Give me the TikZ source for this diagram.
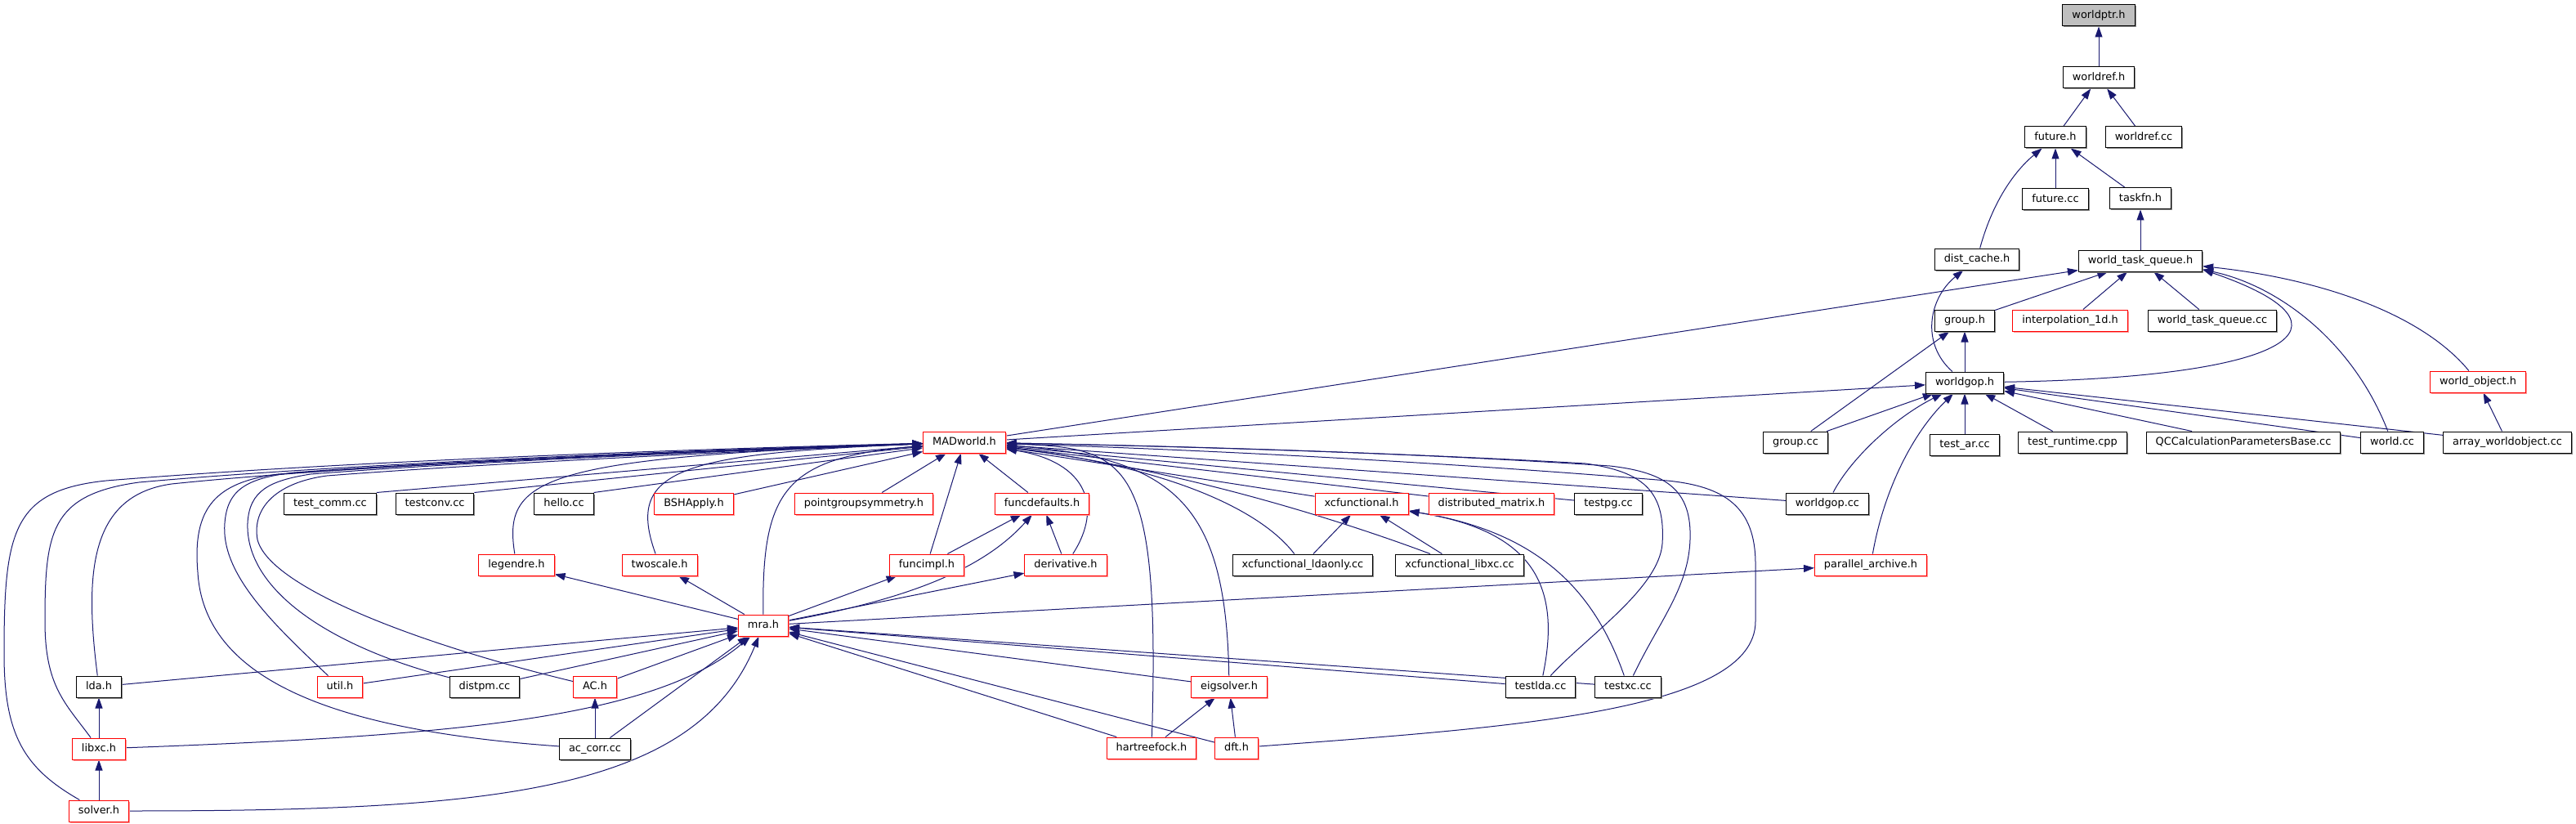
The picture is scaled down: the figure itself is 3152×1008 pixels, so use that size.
\documentclass[tikz,border=0pt]{standalone}
\usepackage{fontspec}
\setmainfont{DejaVu Sans}
\usepackage{tikz}
\usetikzlibrary{
	arrows.meta,
	positioning,
	backgrounds,
	shadows
}
\definecolor{edgeblue}{HTML}{191970}
\definecolor{rootgray}{HTML}{BFBFBF}

\begin{document}
\begin{tikzpicture}[
			x=1pt, y=1pt,
			font=\fontsize{12.9}{15}\selectfont,
			hb/.style={draw=black, line width=1pt, fill=white, minimum height=26pt, inner xsep=11.5pt, inner ysep=0pt, text height=9.5pt, text depth=2.5pt,
				general shadow={fill=black!45, shadow xshift=1.5pt, shadow yshift=-1.5pt}},
			rb/.style={hb, draw=red, general shadow={fill=red!40, shadow xshift=1.5pt, shadow yshift=-1.5pt}},
			rootb/.style={hb, fill=rootgray},
			>={Triangle[length=13pt, width=9pt]},
			dep/.style={->, draw=edgeblue, line width=1pt}
		]
		\useasboundingbox (0,0) rectangle (3152,-1008);

		% upper part
		\node[rootb] (wptr) at (2568,-19) {worldptr.h};
		\node[hb, below=49pt of wptr] (wref) {worldref.h};
		\node[hb] (fut) at (2515,-168) {future.h};
		\node[hb] (wrefcc) at (2623,-168) {worldref.cc};
		\node[hb, below=49pt of fut] (futcc) {future.cc};
		\node[hb] (taskfn) at (2619,-243) {taskfn.h};
		\node[hb] (dcache) at (2419,-317) {dist\_cache.h};
		\node[hb, below=49pt of taskfn] (wtq) {world\_task\_queue.h};
		\node[hb] (grp) at (2404,-392) {group.h};
		\node[rb] (interp) at (2533,-392) {interpolation\_1d.h};
		\node[hb] (wtqcc) at (2707,-392) {world\_task\_queue.cc};
		\node[hb, below=49pt of grp] (wgop) {worldgop.h};
		\node[rb] (wobj) at (3032,-467) {world\_object.h};

		\node[rb] (mad) at (1180,-541) {MADworld.h};
		\node[hb] (grpcc) at (2197,-541) {group.cc};
		\node[hb, below=49pt of wgop] (testar) {test\_ar.cc};
		\node[hb] (testrt) at (2536,-541) {test\_runtime.cpp};
		\node[hb] (qcc) at (2745,-541) {QCCalculationParametersBase.cc};
		\node[hb] (worldcc) at (2927,-541) {world.cc};
		\node[hb] (arrwo) at (3068,-541) {array\_worldobject.cc};

		\node[hb] (tcomm) at (404,-616) {test\_comm.cc};
		\node[hb] (tconv) at (532,-616) {testconv.cc};
		\node[hb] (hello) at (690,-616) {hello.cc};
		\node[rb] (bsh) at (849,-616) {BSHApply.h};
		\node[rb] (pgs) at (1057,-616) {pointgroupsymmetry.h};
		\node[rb] (fdef) at (1275,-616) {funcdefaults.h};
		\node[rb] (xcf) at (1666,-616) {xcfunctional.h};
		\node[rb] (dmat) at (1825,-616) {distributed\_matrix.h};
		\node[hb] (testpg) at (1968,-616) {testpg.cc};
		\node[hb] (wgopcc) at (2236,-616) {worldgop.cc};

		\node[rb] (leg) at (632,-691) {legendre.h};
		\node[rb] (twos) at (807,-691) {twoscale.h};
		\node[rb] (fimpl) at (1134,-691) {funcimpl.h};
		\node[rb] (deriv) at (1304,-691) {derivative.h};
		\node[hb] (xclda) at (1594,-691) {xcfunctional\_ldaonly.cc};
		\node[hb] (xclibxc) at (1786,-691) {xcfunctional\_libxc.cc};
		\node[rb] (parar) at (2289,-691) {parallel\_archive.h};

		% lower part
		\node[rb] (mra) at (934,-765) {mra.h};
		\node[hb] (lda) at (121,-840) {lda.h};
		\node[rb] (util) at (416,-840) {util.h};
		\node[hb] (distpm) at (593,-840) {distpm.cc};
		\node[rb] (ach) at (728,-840) {AC.h};
		\node[rb] (eig) at (1504,-840) {eigsolver.h};
		\node[hb] (tlda) at (1885,-840) {testlda.cc};
		\node[hb] (txc) at (1992,-840) {testxc.cc};
		\node[rb, below=49pt of lda] (libxc) {libxc.h};
		\node[hb, below=49pt of ach] (accorr) {ac\_corr.cc};
		\node[rb] (hf) at (1409,-915) {hartreefock.h};
		\node[rb] (dft) at (1513,-915) {dft.h};
		\node[rb, below=49pt of libxc] (solver) {solver.h};

		\begin{scope}[on background layer]
		\fill[white] (0,0) rectangle (3152,-1008);

		% world part
		\draw[dep] (wref) -- (wptr);
		\draw[dep] (fut) -- (wref);
		\draw[dep] (wrefcc) -- (wref);
		\draw[dep] (futcc) -- (fut);
		\draw[dep] (taskfn) -- (fut);
		\draw[dep] (dcache) .. controls (2440,-240) and (2470,-205) .. (fut);
		\draw[dep] (wtq) -- (taskfn);
		\draw[dep] (grp) -- (wtq);
		\draw[dep] (interp) -- (wtq);
		\draw[dep] (wtqcc) -- (wtq);
		\draw[dep] (mad) -- (wtq);
		\draw[dep] (wgop) .. controls (2800,-462) and (2900,-400) .. (wtq.-8);
		\draw[dep] (worldcc) .. controls (2880,-420) and (2790,-350) .. (wtq.-8);
		\draw[dep] (wobj) .. controls (2960,-380) and (2830,-340) .. (wtq.-5);
		\draw[dep] (wgop) .. controls (2350,-420) and (2360,-365) .. (dcache);
		\draw[dep] (wgop) -- (grp);
		\draw[dep] (grpcc) -- (grp);
		\draw[dep] (mad) -- (wgop);
		\draw[dep] (grpcc) -- (wgop);
		\draw[dep] (wgopcc) .. controls (2265,-560) and (2320,-510) .. (wgop);
		\draw[dep] (parar) .. controls (2305,-600) and (2340,-530) .. (wgop);
		\draw[dep] (testar) -- (wgop);
		\draw[dep] (testrt) -- (wgop);
		\draw[dep] (qcc) -- (wgop);
		\draw[dep] (worldcc) -- (wgop);
		\draw[dep] (arrwo) -- (wgop);
		\draw[dep] (arrwo) -- (wobj);

		% into MADworld.h
		\draw[dep] (tcomm.north east) -- (mad);
		\draw[dep] (tconv.north east) -- (mad);
		\draw[dep] (hello.north east) -- (mad);
		\draw[dep] (bsh) -- (mad);
		\draw[dep] (pgs) -- (mad);
		\draw[dep] (fdef) -- (mad);
		\draw[dep] (fimpl) -- (mad);
		\draw[dep] (xcf) -- (mad);
		\draw[dep] (dmat) -- (mad);
		\draw[dep] (testpg) -- (mad);
		\draw[dep] (wgopcc) -- (mad);
		\draw[dep] (leg) .. controls (615,-585) and (660,-560) .. (mad);
		\draw[dep] (twos) .. controls (765,-575) and (830,-555) .. (mad);
		\draw[dep] (mra) .. controls (932,-600) and (960,-560) .. (mad);
		\draw[dep] (lda) .. controls (103,-700) and (110,-606) .. (210,-592) .. controls (450,-567) and (900,-550) .. (mad);
		\draw[dep] (libxc) .. controls (80,-860) and (55,-840) .. (55,-760) .. controls (55,-650) and (62,-605) .. (170,-590) .. controls (450,-565) and (900,-549) .. (mad);
		\draw[dep] (solver) .. controls (30,-940) and (5,-900) .. (5,-800) .. controls (5,-650) and (15,-600) .. (130,-588) .. controls (450,-562) and (900,-548) .. (mad);
		\draw[dep] (accorr) .. controls (430,-895) and (250,-840) .. (242,-700) .. controls (235,-620) and (265,-590) .. (340,-580) .. controls (550,-565) and (900,-550) .. (mad);
		\draw[dep] (util) .. controls (330,-760) and (270,-700) .. (275,-640) .. controls (278,-600) and (300,-585) .. (360,-578) .. controls (560,-563) and (900,-550) .. (mad);
		\draw[dep] (distpm) .. controls (400,-790) and (300,-720) .. (303,-640) .. controls (305,-600) and (330,-588) .. (380,-580) .. controls (570,-565) and (900,-551) .. (mad);
		\draw[dep] (ach) .. controls (520,-790) and (330,-720) .. (315,-660) .. controls (308,-620) and (340,-590) .. (400,-582) .. controls (580,-568) and (900,-552) .. (mad);
		\draw[dep] (deriv) .. controls (1350,-620) and (1330,-565) .. (mad);
		\draw[dep] (hf) .. controls (1420,-560) and (1380,-548) .. (mad);
		\draw[dep] (eig) .. controls (1500,-620) and (1440,-560) .. (mad);
		\draw[dep] (xclda) .. controls (1540,-620) and (1420,-570) .. (mad);
		\draw[dep] (xclibxc) .. controls (1650,-640) and (1450,-575) .. (mad);
		\draw[dep] (tlda) .. controls (1940,-780) and (2030,-720) .. (2034,-665) .. controls (2038,-600) and (2010,-577) .. (1940,-567) .. controls (1700,-553) and (1400,-545) .. (mad);
		\draw[dep] (txc) .. controls (2030,-760) and (2066,-720) .. (2068,-660) .. controls (2070,-600) and (2040,-578) .. (1970,-570) .. controls (1700,-552) and (1400,-545) .. (mad);
		\draw[dep] (dft) .. controls (1850,-890) and (2148,-870) .. (2148,-760) -- (2148,-690) .. controls (2148,-620) and (2110,-595) .. (2040,-588) .. controls (1700,-560) and (1400,-548) .. (mad);

		% around mra.h
		\draw[dep] (lda) -- (mra);
		\draw[dep] (util) -- (mra);
		\draw[dep] (distpm) -- (mra);
		\draw[dep] (ach) -- (mra);
		\draw[dep] (libxc) .. controls (550,-900) and (800,-880) .. (mra);
		\draw[dep] (accorr) -- (mra);
		\draw[dep] (solver) .. controls (600,-992) and (850,-970) .. (mra);
		\draw[dep] (eig) -- (mra);
		\draw[dep] (tlda) -- (mra);
		\draw[dep] (txc) -- (mra);
		\draw[dep] (hf) -- (mra);
		\draw[dep] (dft) -- (mra);
		\draw[dep] (mra) -- (leg);
		\draw[dep] (mra) -- (twos);
		\draw[dep] (mra) -- (fimpl);
		\draw[dep] (mra) -- (deriv);
		\draw[dep] (mra) .. controls (1100,-735) and (1200,-700) .. (fdef);
		\draw[dep] (mra) -- (parar);

		\draw[dep] (fimpl) -- (fdef);
		\draw[dep] (deriv) -- (fdef);
		\draw[dep] (xclda) -- (xcf);
		\draw[dep] (xclibxc) -- (xcf);
		\draw[dep] (tlda) .. controls (1910,-720) and (1880,-650) .. (xcf);
		\draw[dep] (txc) .. controls (1950,-720) and (1880,-650) .. (xcf);
		\draw[dep] (hf) -- (eig);
		\draw[dep] (dft) -- (eig);
		\draw[dep] (accorr) -- (ach);
		\draw[dep] (libxc) -- (lda);
		\draw[dep] (solver) -- (libxc);
		\end{scope}
	\end{tikzpicture}
\end{document}
